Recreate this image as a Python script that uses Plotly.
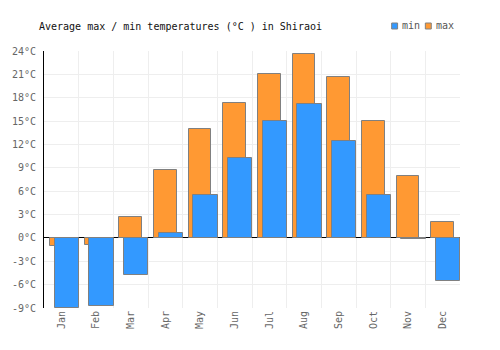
import plotly.graph_objects as go

months = ["Jan", "Feb", "Mar", "Apr", "May", "Jun", "Jul", "Aug", "Sep", "Oct", "Nov", "Dec"]
temp_min = [-9.0, -8.7, -4.7, 0.6, 5.5, 10.2, 15.0, 17.2, 12.4, 5.5, -0.1, -5.5]
temp_max = [-1.1, -0.9, 2.7, 8.7, 14.0, 17.3, 21.1, 23.6, 20.6, 15.0, 7.9, 2.0]
y_ticks = [-9, -6, -3, 0, 3, 6, 9, 12, 15, 18, 21, 24]

BLUE = "#3399ff"
ORANGE = "#ff9933"
EDGE = "#808080"
FONT = "DejaVu Sans Mono"

W, H = 500, 350
ML, MR, MT, MB = 40, 40, 51, 42

fig = go.Figure()
fig.add_trace(go.Bar(
    x=months, y=temp_max, name="max",
    width=0.66, offset=-0.33,
    marker=dict(color=ORANGE, line=dict(color=EDGE, width=1)),
    showlegend=False,
))
fig.add_trace(go.Bar(
    x=months, y=temp_min, name="min",
    width=0.70, offset=-0.19,
    marker=dict(color=BLUE, line=dict(color=EDGE, width=1)),
    showlegend=False,
))

def px_x(p):
    return (p - ML) / (W - ML - MR)

def px_y(p):
    return 1 - (p - MT) / (H - MT - MB)

# custom legend
legend_items = [("min", BLUE, 391), ("max", ORANGE, 425)]
for label, col, x0 in legend_items:
    fig.add_shape(type="rect", xref="paper", yref="paper",
                  x0=px_x(x0), x1=px_x(x0 + 6), y0=px_y(29), y1=px_y(23),
                  fillcolor=col, line=dict(color=EDGE, width=1))
    fig.add_annotation(xref="paper", yref="paper", x=px_x(x0 + 8.5), y=px_y(26),
                       text=label, showarrow=False, xanchor="left", yanchor="middle",
                       font=dict(family=FONT, size=10, color="#555555"))

fig.update_layout(
    width=W, height=H,
    margin=dict(l=ML, r=MR, t=MT, b=MB),
    paper_bgcolor="white", plot_bgcolor="white",
    barmode="overlay",
    title=dict(text="Average max / min temperatures (°C ) in Shiraoi",
               x=39 / W, xanchor="left", xref="container",
               y=1 - 26 / H, yanchor="middle", yref="container",
               font=dict(family=FONT, size=10, color="#111111")),
    font=dict(family=FONT, size=10, color="#666666"),
    bargap=0,
)
fig.update_xaxes(
    type="category", tickson="boundaries", showgrid=True, gridcolor="#eeeeee", gridwidth=1,
    tickangle=-90, ticks="", showline=False, zeroline=False,
    tickfont=dict(family=FONT, size=10, color="#666666"),
    range=[-0.5, 11.5], fixedrange=True,
)
fig.update_yaxes(
    range=[-9, 24], tickvals=y_ticks, ticktext=[f"{v}°C" for v in y_ticks],
    showgrid=True, gridcolor="#eeeeee", gridwidth=1,
    zeroline=True, zerolinecolor="#000000", zerolinewidth=1,
    showline=True, linecolor="#000000", linewidth=1,
    ticks="", ticklabelstandoff=5,
    tickfont=dict(family=FONT, size=10, color="#666666"),
)

fig.write_html("out.html")
